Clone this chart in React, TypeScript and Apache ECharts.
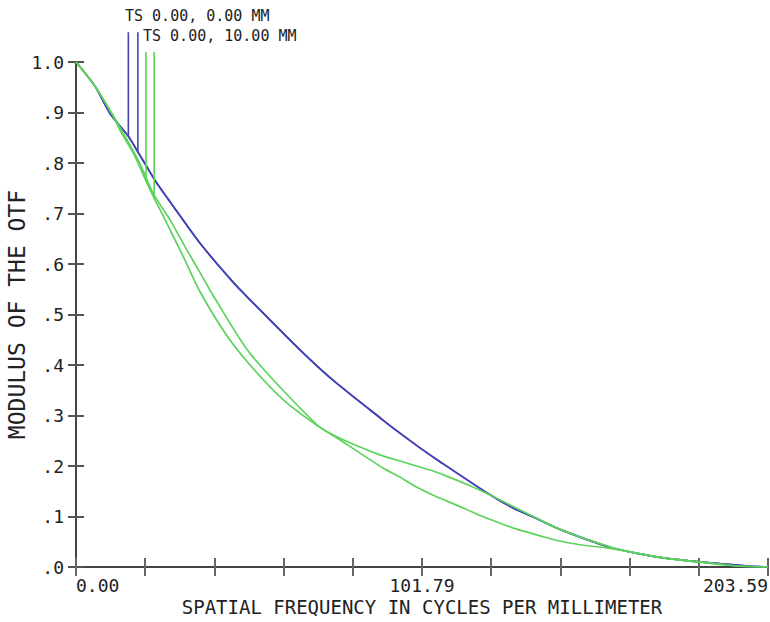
import React, { useEffect, useRef } from "react";
import * as echarts from "echarts";

// ---- axis definitions ----
const xMin = 0;
const xMax = 203.59;
const xStep = 20.359;
const xTickLabels = ["0.00", "", "", "", "", "101.79", "", "", "", "", "203.59"];
const yTickLabels = [".0", ".1", ".2", ".3", ".4", ".5", ".6", ".7", ".8", ".9", "1.0"];
const xTitle = "SPATIAL FREQUENCY IN CYCLES PER MILLIMETER";
const yTitle = "MODULUS OF THE OTF";

// ---- legend ----
const legendTexts = ["TS 0.00, 0.00 MM", "TS 0.00, 10.00 MM"];
const legendMarkerFreq = [15.4, 18.2, 20.6, 23.0];
const legendMarkerTop = [1.059, 1.059, 1.02, 1.02];
const legendMarkerBottom = [0.853, 0.822, 0.77, 0.731];
const legendMarkerColorIdx = [0, 0, 1, 1];

// ---- data: on-axis field (T and S coincide) ----
const axisFreq = [0, 5.6, 10.0, 15.4, 18.2, 20.8, 23.2, 27.7, 36.5, 46.2, 50.2, 65.9, 75.6, 90.3, 95.3, 101.2, 107.1, 121.8, 128.6, 135.5, 142.9, 157.6, 166, 171.8, 183.6, 197.8, 203.59];
const axisMtf = [1.0, 0.952, 0.898, 0.853, 0.822, 0.793, 0.766, 0.723, 0.641, 0.564, 0.536, 0.43, 0.37, 0.291, 0.265, 0.236, 0.2085, 0.143, 0.117, 0.096, 0.073, 0.038, 0.026, 0.019, 0.01, 0.002, 0];

// ---- data: 10 mm field, first curve ----
const field1Freq = [0, 5.6, 11.0, 13.9, 18.8, 22.7, 27.7, 32.6, 36.5, 40.4, 51.2, 70.8, 76.7, 90.3, 95.3, 99.2, 105.1, 109, 114.9, 118.9, 124.7, 128.7, 138.5, 142.3, 148.3, 157, 166, 173.8, 183.6, 191.4, 197.3, 203.59];
const field1Mtf = [1.0, 0.952, 0.893, 0.859, 0.799, 0.74, 0.687, 0.628, 0.583, 0.537, 0.423, 0.282, 0.256, 0.196, 0.178, 0.162, 0.142, 0.131, 0.114, 0.102, 0.087, 0.077, 0.058, 0.0515, 0.044, 0.037, 0.026, 0.017, 0.01, 0.004, 0.001, 0];

// ---- data: 10 mm field, second curve ----
const field2Freq = [0, 5.6, 11.0, 12.9, 16.9, 21.8, 26.7, 31.6, 36.5, 43.9, 51.2, 61.0, 70.8, 76.7, 89.4, 95.3, 99.2, 105.1, 109, 114.9, 118.9, 124.7, 134.5, 142.9, 158, 166, 173.8, 183.6, 191.4, 197.3, 203.59];
const field2Mtf = [1.0, 0.952, 0.892, 0.865, 0.819, 0.747, 0.681, 0.614, 0.545, 0.463, 0.4, 0.331, 0.281, 0.258, 0.222, 0.21, 0.202, 0.19, 0.18, 0.164, 0.152, 0.133, 0.1, 0.073, 0.038, 0.026, 0.017, 0.01, 0.004, 0.001, 0];

const BLUE = "#4343b6";
const GREEN = "#5cd35c";
const colors = [BLUE, GREEN];
const FONT = "DejaVu Sans Mono";
const AXIS_COLOR = "#444";

const zip = (xs: number[], ys: number[]) => xs.map((x, i) => [x, ys[i]]);

export default function App() {
  const ref = useRef<HTMLDivElement>(null);

  useEffect(() => {
    document.body.style.margin = "0";
    const chart = echarts.init(ref.current!, null, { renderer: "svg" });

    const baseX = {
      type: "value" as const,
      min: xMin,
      max: xMax,
      interval: xStep,
      splitLine: { show: false },
      axisLine: { show: true, lineStyle: { color: AXIS_COLOR, width: 2 } },
      axisTick: { show: true, inside: true, length: 9, lineStyle: { color: "#666", width: 2 } },
    };
    const baseY = {
      type: "value" as const,
      min: 0,
      max: 1,
      interval: 0.1,
      splitLine: { show: false },
      axisLine: { show: true, lineStyle: { color: AXIS_COLOR, width: 2 } },
      axisTick: { show: true, inside: true, length: 8, lineStyle: { color: "#555", width: 2 } },
    };

    const legendSeries = legendMarkerFreq.map((f, i) => ({
      type: "line",
      xAxisIndex: 0,
      yAxisIndex: 0,
      clip: false,
      silent: true,
      symbol: "none",
      data: [
        [f, legendMarkerTop[i]],
        [f, legendMarkerBottom[i]],
      ],
      lineStyle: { color: colors[legendMarkerColorIdx[i]], width: 1.6 },
      z: 3,
    }));

    const curve = (name: string, xs: number[], ys: number[], color: string, z: number) => ({
      name,
      type: "line",
      symbol: "none",
      smooth: 0.25,
      data: zip(xs, ys),
      lineStyle: { color, width: 1.7 },
      z,
    });

    chart.setOption({
      animation: false,
      backgroundColor: "#ffffff",
      grid: { left: 76, top: 62, right: 2, bottom: 55, containLabel: false, outerBoundsMode: "none" },
      xAxis: [
        {
          ...baseX,
          position: "bottom",
          name: xTitle,
          nameLocation: "middle",
          nameGap: 30,
          nameMoveOverlap: false,
          nameTextStyle: { fontFamily: FONT, fontSize: 19, color: "#222" },
          axisLabel: {
            show: true,
            fontFamily: FONT,
            fontSize: 18,
            color: "#222",
            margin: 9,
            alignMinLabel: "left",
            alignMaxLabel: "right",
            formatter: (v: number) => xTickLabels[Math.round(v / xStep)] ?? "",
          },
        },
        {
          ...baseX,
          position: "top",
          axisLabel: { show: false },
        },
      ],
      yAxis: [
        {
          ...baseY,
          position: "left",
          name: yTitle,
          nameLocation: "middle",
          nameGap: 48,
          nameMoveOverlap: false,
          nameRotate: 90,
          nameTextStyle: { fontFamily: FONT, fontSize: 23, color: "#222" },
          axisLabel: {
            show: true,
            fontFamily: FONT,
            fontSize: 18,
            color: "#222",
            margin: 12,
            formatter: (v: number) => yTickLabels[Math.round(v * 10)] ?? "",
          },
        },
        {
          ...baseY,
          position: "right",
          axisLabel: { show: false },
        },
      ],
      graphic: [
        {
          type: "text",
          left: 125,
          top: 8,
          style: { text: legendTexts[0], fontFamily: FONT, fontSize: 15, fill: "#222" },
        },
        {
          type: "text",
          left: 143,
          top: 28,
          style: { text: legendTexts[1], fontFamily: FONT, fontSize: 15, fill: "#222" },
        },
      ],
      series: [
        curve("T 0.00 MM", axisFreq, axisMtf, BLUE, 2),
        curve("S 0.00 MM", axisFreq, axisMtf, BLUE, 2),
        curve("T 10.00 MM", field1Freq, field1Mtf, GREEN, 3),
        curve("S 10.00 MM", field2Freq, field2Mtf, GREEN, 3),
        ...legendSeries,
      ],
    });

    return () => chart.dispose();
  }, []);

  return <div ref={ref} style={{ width: 770, height: 622 }} />;
}
